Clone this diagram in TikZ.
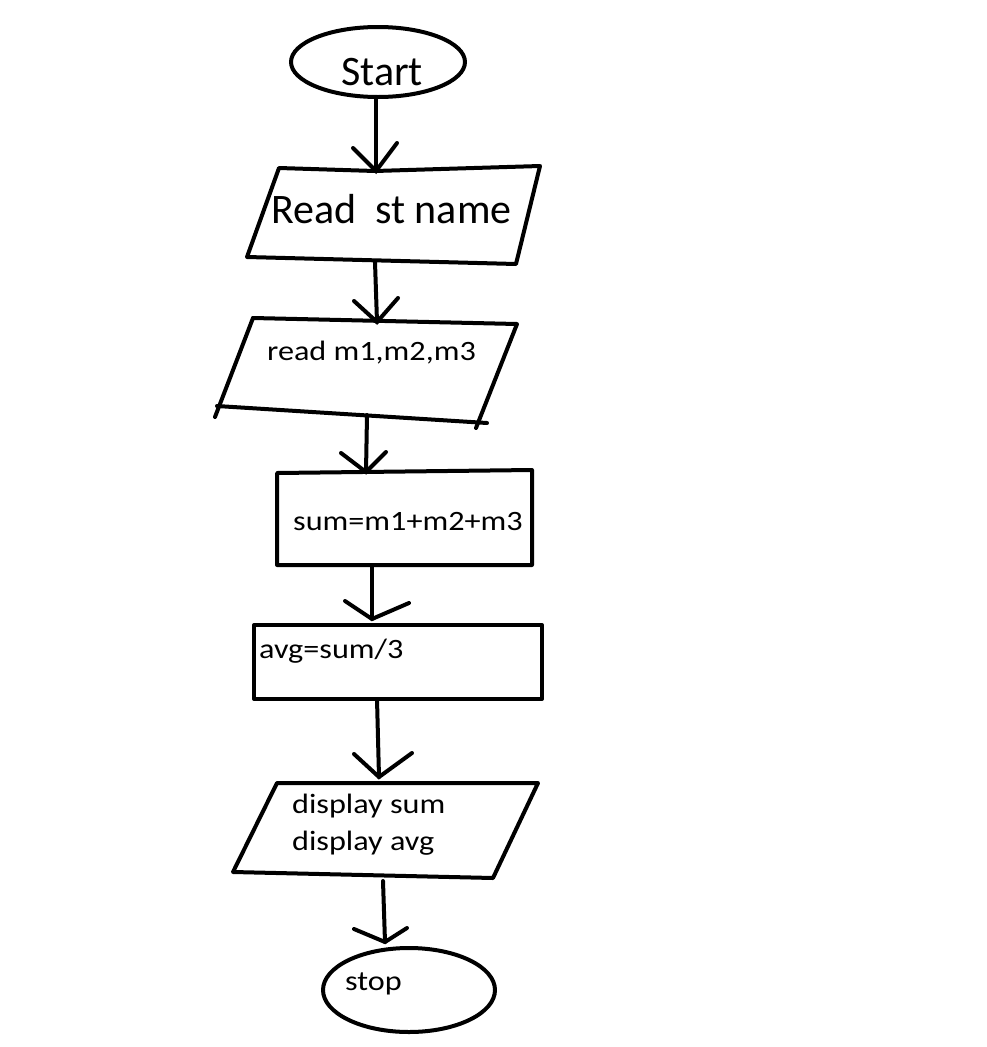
\documentclass[tikz,border=0pt]{standalone}
\usepackage{fontspec}
\usetikzlibrary{calc}
\setmainfont{Carlito}
\newfontfamily\smallf[FakeStretch=1.15]{Carlito}
\tikzset{
  x=1pt, y=-1pt,
  outline/.style={line width=4pt, line join=round, line cap=round},
  conn/.style={line width=4pt, line cap=round, line join=miter},
  bigtext/.style={font=\fontsize{42}{50}\selectfont, inner sep=0pt, anchor=base west},
  smalltext/.style={font=\smallf\fontsize{28}{37}\selectfont, inner sep=0pt, anchor=base west}
}
\begin{document}
\begin{tikzpicture}
\useasboundingbox (0,0) rectangle (986,1047);

% ---------- shapes ----------
% Start
\draw[outline] (378,62) ellipse [x radius=87, y radius=35];
\coordinate (startB) at (376,97);
\node[bigtext] (tstart) at (341,85) {Start};

% Read st name
\draw[outline] (279,168) -- (375,171) -- (540,166) -- (516,264) -- (247,257) -- cycle;
\coordinate (p1T) at (376,171);
\coordinate (p1B) at (375,262);
\node[bigtext] (tread) at (271,223) {Read\ \ st name};

% read m1,m2,m3
\draw[outline] (253,318) -- (517,324) -- (476,428);
\draw[outline] (253,318) -- (215,417);
\draw[outline] (217,406) -- (487,423);
\coordinate (p2T) at (377,322);
\coordinate (p2B) at (367,415);
\node[smalltext] (tm) at (267,360) {read m1,m2,m3};

% sum
\draw[outline] (277,473) -- (532,470) -- (532,565) -- (277,565) -- cycle;
\coordinate (r1T) at (366,472);
\coordinate (r1B) at (372,565);
\node[smalltext] (tsum) at (293,530) {sum=m1+m2+m3};

% avg
\draw[outline] (254,625) rectangle (542,699);
\coordinate (r2T) at (372,625);
\coordinate (r2B) at (377,699);
\node[smalltext] (tavg) at (259,658) {avg=sum/3};

% display
\draw[outline] (277,783) -- (538,783) -- (493,878) -- (233,872) -- cycle;
\coordinate (p3T) at (379,783);
\coordinate (p3B) at (383,881);
\node[smalltext] (tdisp) at (292,813) {\vtop{\hbox{display sum}\hbox{display avg}}};

% stop
\draw[outline] (409,990) ellipse [x radius=86, y radius=42];
\coordinate (stopT) at (385,948);
\node[smalltext] (tstop) at (345,990) {stop};

% ---------- connectors ----------
\draw[conn] (startB) -- (p1T);
\draw[conn] ($(p1T)+(-23,-23)$) -- (p1T) -- ($(p1T)+(21,-28)$);

\draw[conn] (p1B) -- (p2T);
\draw[conn] ($(p2T)+(-23,-21)$) -- (p2T) -- ($(p2T)+(21,-24)$);

\draw[conn] (p2B) -- (r1T);
\draw[conn] ($(r1T)+(-25,-19)$) -- (r1T) -- ($(r1T)+(20,-20)$);

\draw[conn] (r1B) -- ($(r2T)+(0,-6)$);
\draw[conn] ($(r2T)+(-27,-24)$) -- ($(r2T)+(0,-6)$) -- ($(r2T)+(37,-22)$);

\draw[conn] (r2B) -- ($(p3T)+(0,-6)$);
\draw[conn] ($(p3T)+(-25,-29)$) -- ($(p3T)+(0,-6)$) -- ($(p3T)+(33,-30)$);

\draw[conn] (p3B) -- ($(stopT)+(0,-6)$);
\draw[conn] ($(stopT)+(-31,-19)$) -- ($(stopT)+(0,-6)$) -- ($(stopT)+(22,-20)$);
\end{tikzpicture}
\end{document}
